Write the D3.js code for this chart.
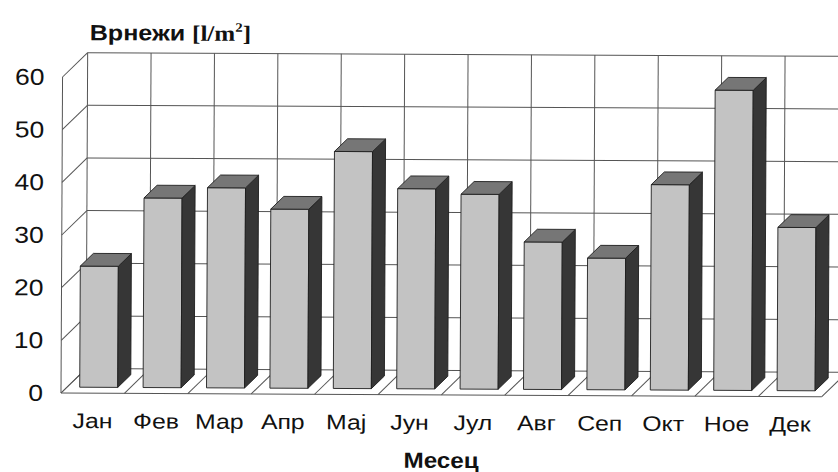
<!DOCTYPE html>
<html>
<head>
<meta charset="utf-8">
<script src="https://cdn.jsdelivr.net/npm/d3@7"></script>
<style>
  html, body { margin: 0; padding: 0; background: #fff; }
  svg { display: block; }
  text { font-family: "Liberation Sans", Arial, sans-serif; fill: #111; }
</style>
</head>
<body>
<svg id="chart" width="838" height="472"></svg>
<script>
// Monthly precipitation
const months = ["Јан", "Фев", "Мар", "Апр", "Мај", "Јун", "Јул", "Авг", "Сеп", "Окт", "Ное", "Дек"];
const rainfall = [23, 36, 38, 34, 45, 38, 37, 28, 25, 39, 57, 31];
const yTicks = [0, 10, 20, 30, 40, 50, 60];
const titleMain = "Врнежи";
const xTitle = "Месец";

const W = 838, H = 472;
const svg = d3.select("#chart");

// front plane scales
const x = d3.scaleBand()
  .domain(months)
  .range([61, 61 + 12 * 63.4])
  .paddingInner(0.4)
  .paddingOuter(0.2);
const y = d3.scaleLinear().domain([0, 60]).range([393, 77]);

// oblique depth: t = 0 front edge, t = 1 back wall
const depth = { dx: 25, dy: 24.5 };
const P = (px, py, t) => [px + depth.dx * t, py - depth.dy * t];
const barDepth = [0.24, 0.76];

const root = svg.append("g").attr("transform", "rotate(0.28, 61, 393)");

const gridColor = "#555";
const x0 = x.range()[0], step = x.step();
const boundaries = d3.range(13).map(k => x0 + k * step);

// back wall: horizontal gridlines
const back = root.append("g").attr("stroke", gridColor).attr("stroke-width", 1).attr("fill", "none");
yTicks.forEach(v => {
  const a = P(x0, y(v), 1);
  back.append("line").attr("x1", a[0]).attr("y1", a[1]).attr("x2", W + 40).attr("y2", a[1]);
});
// back wall: vertical gridlines at category boundaries
boundaries.forEach(b => {
  const a = P(b, y(0), 1), c = P(b, y(60), 1);
  back.append("line").attr("x1", a[0]).attr("y1", a[1]).attr("x2", c[0]).attr("y2", c[1]);
});

// left side wall
const side = root.append("g").attr("stroke", gridColor).attr("stroke-width", 1).attr("fill", "none");
side.append("line").attr("x1", x0).attr("y1", y(0)).attr("x2", x0).attr("y2", y(60));
yTicks.forEach(v => {
  const a = P(x0, y(v), 0), c = P(x0, y(v), 1);
  side.append("line").attr("x1", a[0]).attr("y1", a[1]).attr("x2", c[0]).attr("y2", c[1]);
});

// floor
const floor = root.append("g").attr("stroke", gridColor).attr("stroke-width", 1).attr("fill", "none");
floor.append("line").attr("x1", x0).attr("y1", y(0)).attr("x2", boundaries[12]).attr("y2", y(0));
boundaries.forEach(b => {
  const a = P(b, y(0), 0), c = P(b, y(0), 1);
  floor.append("line").attr("x1", a[0]).attr("y1", a[1]).attr("x2", c[0]).attr("y2", c[1]);
});

// bars
const poly = pts => pts.map(p => p.join(",")).join(" ");
const bars = root.append("g").attr("stroke", "#1e1e1e").attr("stroke-width", 0.9).attr("stroke-linejoin", "round");
months.forEach((m, i) => {
  const xa = x(m), xb = xa + x.bandwidth();
  const yt = y(rainfall[i]), yb = y(0);
  const [t0, t1] = barDepth;
  const g = bars.append("g");
  g.append("polygon").attr("fill", "#c3c3c3")
    .attr("points", poly([P(xa, yt, t0), P(xb, yt, t0), P(xb, yb, t0), P(xa, yb, t0)]));
  g.append("polygon").attr("fill", "#363636")
    .attr("points", poly([P(xb, yt, t0), P(xb, yt, t1), P(xb, yb, t1), P(xb, yb, t0)]));
  g.append("polygon").attr("fill", "#767676")
    .attr("points", poly([P(xa, yt, t0), P(xa, yt, t1), P(xb, yt, t1), P(xb, yt, t0)]));
});

// text placed at (tx, ty) and widened horizontally
const wide = (sel, tx, ty, sx) => sel.attr("transform", `translate(${tx},${ty}) scale(${sx},1)`);

// y tick labels
root.append("g").selectAll("text").data(yTicks).join("text")
  .each(function (d) { wide(d3.select(this), 43, y(d), 1.15); })
  .attr("text-anchor", "end").attr("dominant-baseline", "central")
  .attr("font-size", 23)
  .text(d => d);

// month labels
root.append("g").selectAll("text").data(months).join("text")
  .each(function (d) { wide(d3.select(this), x(d) + x.bandwidth() / 2, 428, 1.18); })
  .attr("text-anchor", "middle")
  .attr("font-size", 21)
  .text(d => d);

// axis title
wide(root.append("text"), (x0 + boundaries[12]) / 2, 466, 1.1)
  .attr("text-anchor", "middle").attr("font-size", 22).attr("font-weight", "bold")
  .text(xTitle);

// chart title with unit
const title = wide(root.append("text"), 88, 40, 1.14);
title.append("tspan").attr("font-size", 22).attr("font-weight", "bold").text(titleMain + " ");
const unit = title.append("tspan").attr("font-family", "Liberation Serif, Times New Roman, serif")
  .attr("font-weight", "bold").attr("font-size", 22);
unit.append("tspan").text("[l/m");
unit.append("tspan").attr("font-size", 13).attr("dy", -9).text("2");
unit.append("tspan").attr("dy", 9).text("]");
</script>
</body>
</html>
